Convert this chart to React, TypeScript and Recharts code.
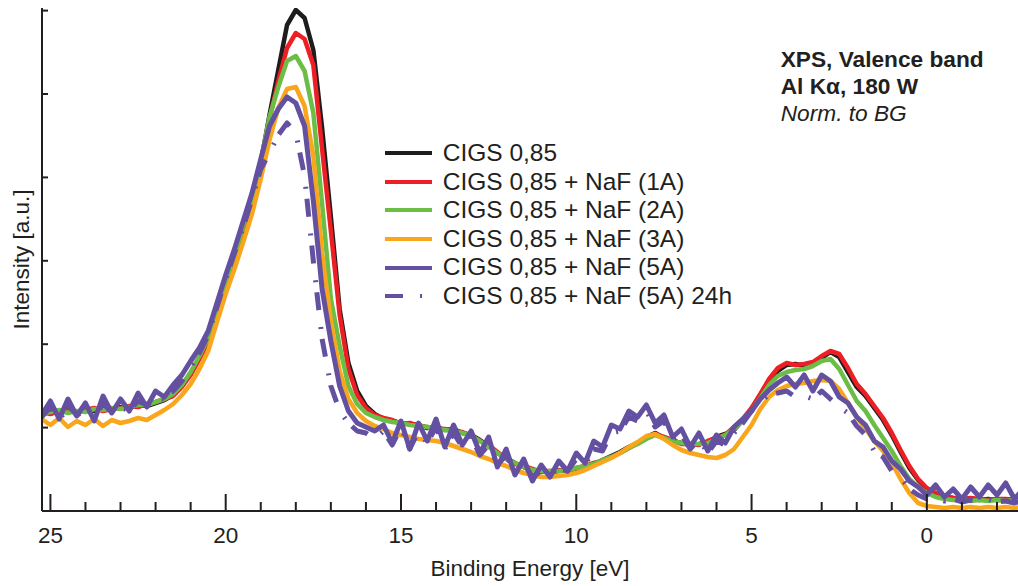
import React from 'react';
import { LineChart, Line, XAxis, YAxis, Legend, Label } from 'recharts';

const FONT = '"Liberation Sans", Arial, Helvetica, sans-serif';
const INK = '#231f20';

// Binding energy grid [eV]
const ENERGY = [
  25.25, 25, 24.75, 24.5, 24.25, 24, 23.75, 23.5, 23.25, 23,
  22.75, 22.5, 22.25, 22, 21.75, 21.5, 21.25, 21, 20.75, 20.5,
  20.25, 20, 19.75, 19.5, 19.25, 19, 18.75, 18.5, 18.25, 18,
  17.75, 17.5, 17.25, 17, 16.75, 16.5, 16.25, 16, 15.75, 15.5,
  15.25, 15, 14.75, 14.5, 14.25, 14, 13.75, 13.5, 13.25, 13,
  12.75, 12.5, 12.25, 12, 11.75, 11.5, 11.25, 11, 10.75, 10.5,
  10.25, 10, 9.75, 9.5, 9.25, 9, 8.75, 8.5, 8.25, 8,
  7.75, 7.5, 7.25, 7, 6.75, 6.5, 6.25, 6, 5.75, 5.5,
  5.25, 5, 4.75, 4.5, 4.25, 4, 3.75, 3.5, 3.25, 3,
  2.75, 2.5, 2.25, 2, 1.75, 1.5, 1.25, 1, 0.75, 0.5,
  0.25, 0, -0.25, -0.5, -0.75, -1, -1.25, -1.5, -1.75, -2,
  -2.25, -2.5, -2.75,
];

// Intensities (a.u., normalized to background)
const CIGS = [
  98, 100, 97, 101, 99, 102, 100, 103, 101, 104,
  103, 106, 105, 108, 111, 116, 125, 137, 153, 171,
  201, 228, 253, 283, 311, 348, 396, 441, 486, 501,
  493, 461, 383, 294, 202, 148, 120, 105, 97, 92,
  90, 88, 87, 86, 83, 84, 81, 82, 78, 76,
  71, 65, 58, 53, 48, 44, 41, 40, 39, 40,
  41, 42, 44, 47, 51, 55, 59, 64, 68, 74,
  78, 73, 70, 68, 66, 67, 69, 74, 77, 81,
  91, 101, 116, 128, 140, 146, 147, 145, 147, 153,
  159, 154, 139, 124, 115, 103, 91, 76, 59, 43,
  31, 22, 17, 14, 13, 12, 12, 11, 12, 11,
  11, 12, 11,
];

const NAF_1A = [
  99, 97, 100, 102, 98, 101, 103, 100, 102, 103,
  105, 104, 107, 109, 112, 115, 124, 136, 152, 170,
  200, 227, 252, 282, 310, 347, 392, 430, 463, 478,
  472, 446, 362, 280, 196, 142, 116, 103, 96, 93,
  91, 87, 88, 85, 84, 82, 82, 80, 79, 75,
  70, 66, 59, 52, 47, 45, 42, 39, 40, 41,
  40, 43, 45, 48, 50, 54, 58, 63, 68, 73,
  77, 74, 71, 67, 67, 66, 70, 73, 76, 84,
  92, 103, 117, 132, 143, 148, 146, 147, 149, 155,
  160, 157, 143, 127, 117, 105, 93, 78, 61, 45,
  32, 23, 18, 15, 13, 12, 13, 12, 11, 12,
  12, 11, 12,
];

const NAF_2A = [
  97, 99, 101, 98, 100, 99, 102, 101, 103, 102,
  104, 106, 106, 109, 112, 117, 126, 139, 155, 173,
  203, 230, 255, 285, 313, 350, 394, 424, 450, 455,
  440, 398, 307, 212, 165, 125, 107, 98, 94, 91,
  89, 88, 86, 85, 84, 82, 81, 80, 78, 75,
  70, 64, 58, 52, 48, 44, 41, 40, 40, 40,
  41, 43, 45, 47, 51, 54, 58, 63, 67, 72,
  76, 73, 70, 68, 67, 67, 68, 72, 76, 82,
  90, 100, 113, 126, 135, 139, 141, 142, 145, 150,
  152, 142, 126, 110, 100, 86, 73, 60, 45, 32,
  24, 18, 14, 12, 11, 11, 10, 11, 10, 11,
  10, 11, 10,
];

const NAF_3A = [
  92, 86, 93, 84, 90, 86, 92, 85, 91, 88,
  90, 93, 91, 96, 101, 107, 116, 127, 142, 160,
  189, 217, 242, 269, 297, 332, 371, 403, 422, 424,
  405, 355, 258, 190, 140, 112, 98, 90, 85, 82,
  78, 76, 74, 72, 71, 70, 68, 65, 62, 59,
  55, 52, 48, 45, 41, 38, 36, 34, 34, 35,
  36, 38, 41, 45, 49, 53, 58, 64, 69, 75,
  77, 72, 66, 61, 58, 56, 54, 53, 56, 62,
  74, 86, 102, 114, 121, 125, 127, 128, 130, 131,
  130, 122, 108, 94, 82, 70, 60, 48, 32, 18,
  8, 5, 4, 3, 4, 3, 4, 3, 4, 3,
  4, 3, 4,
];

const NAF_5A = [
  96, 110, 92, 112, 95, 108, 90, 115, 98, 112,
  100, 118, 104, 120, 114, 126, 136, 150, 163, 180,
  208, 236, 262, 290, 318, 352, 385, 402, 414, 408,
  385, 310, 222, 170, 125, 100, 88, 84, 80, 86,
  68, 90, 62, 88, 70, 92, 64, 86, 66, 80,
  58, 74, 44, 62, 36, 52, 30, 46, 34, 50,
  40, 58, 48, 70, 64, 86, 82, 100, 94, 106,
  88, 96, 74, 82, 64, 78, 60, 76, 68, 84,
  92, 100, 112, 121, 128, 134, 124, 136, 120, 136,
  130, 114, 108, 94, 86, 70, 64, 50, 42, 30,
  24, 16, 26, 14, 22, 12, 24, 14, 26, 16,
  28, 12, 22,
];

const NAF_5A_24H = [
  94, 104, 90, 106, 96, 100, 92, 108, 98, 104,
  100, 110, 106, 114, 112, 120, 130, 144, 158, 176,
  204, 232, 258, 284, 312, 342, 358, 376, 388, 378,
  335, 250, 172, 125, 100, 88, 80, 78, 72, 80,
  66, 84, 62, 80, 68, 84, 62, 78, 64, 74,
  56, 66, 46, 56, 40, 48, 34, 40, 36, 44,
  40, 52, 46, 62, 60, 78, 80, 94, 90, 100,
  84, 90, 72, 76, 62, 72, 58, 70, 66, 78,
  88, 100, 110, 116, 118, 120, 114, 115, 112, 120,
  112, 104, 98, 85, 76, 60, 54, 40, 34, 22,
  16, 12, 14, 10, 12, 9, 11, 10, 12, 9,
  10, 8, 11,
];

const X_TICKS = [25, 24, 23, 22, 21, 20, 19, 18, 17, 16, 15, 14, 13, 12, 11, 10, 9, 8, 7, 6, 5, 4, 3, 2, 1, 0, -1, -2];
const Y_TICKS = [83.4, 166.8, 250.2, 333.6, 417, 500.4];
const X_DOMAIN: [number, number] = [-2.6, 25.24];
const Y_DOMAIN: [number, number] = [0, 503];

type Series = { key: string; name: string; color: string; values: number[]; width: number; dash?: string };

const SERIES: Series[] = [
  { key: 'cigs', name: 'CIGS 0,85', color: '#1f1c1d', values: CIGS, width: 4.5 },
  { key: 'naf1', name: 'CIGS 0,85 + NaF (1A)', color: '#ed1f24', values: NAF_1A, width: 4.5 },
  { key: 'naf2', name: 'CIGS 0,85 + NaF (2A)', color: '#6bbd46', values: NAF_2A, width: 4.5 },
  { key: 'naf3', name: 'CIGS 0,85 + NaF (3A)', color: '#f9a61c', values: NAF_3A, width: 4.5 },
  { key: 'naf5', name: 'CIGS 0,85 + NaF (5A)', color: '#6450a1', values: NAF_5A, width: 5 },
  { key: 'naf5h', name: 'CIGS 0,85 + NaF (5A) 24h', color: '#6450a1', values: NAF_5A_24H, width: 5, dash: '18 17 2 10' },
];

const DRAW_ORDER = ['cigs', 'naf1', 'naf2', 'naf3', 'naf5h', 'naf5'];

const data = ENERGY.map((e, i) => {
  const row: Record<string, number> = { e };
  SERIES.forEach((s) => {
    row[s.key] = s.values[i];
  });
  return row;
});

const BottomTick = (p: any) => {
  const { x, y, payload } = p;
  const v = payload.value;
  const major = v % 5 === 0;
  return (
    <g>
      <line x1={x} x2={x} y1={y} y2={y - (major ? 17 : 9)} stroke={INK} strokeWidth={2} />
      {major && (
        <text x={x} y={y + 32} textAnchor="middle" fontSize={22.5} fontFamily={FONT} fill={INK}>
          {v}
        </text>
      )}
    </g>
  );
};

const TopTick = (p: any) => {
  const { x, y, payload } = p;
  const major = payload.value % 5 === 0;
  return <line x1={x} x2={x} y1={y} y2={y + (major ? 17 : 8)} stroke={INK} strokeWidth={2} />;
};

const LeftTick = (p: any) => {
  const { x, y } = p;
  return <line x1={x} x2={x + 6} y1={y} y2={y} stroke={INK} strokeWidth={2} />;
};

const LegendBox = () => (
  <div style={{ fontFamily: FONT, fontSize: 24.5, color: INK }}>
    {SERIES.map((s) => (
      <div key={s.key} style={{ display: 'flex', alignItems: 'center', height: 28.6, whiteSpace: 'nowrap' }}>
        <svg width={47} height={6} style={{ marginRight: 10.7, flex: 'none' }}>
          <line x1={0} x2={47} y1={3} y2={3} stroke={s.color} strokeWidth={4} strokeDasharray={s.dash} />
        </svg>
        <span style={{ lineHeight: '28.6px' }}>{s.name}</span>
      </div>
    ))}
  </div>
);

export default function App() {
  const axisLine = { stroke: INK, strokeWidth: 2 };
  return (
    <div style={{ position: 'absolute', left: 0, top: 0, width: 1018, height: 586, overflow: 'hidden', background: '#fff' }}>
      <LineChart width={1018} height={586} data={data} margin={{ top: 8, right: 0, bottom: 0, left: 0 }}>
        <XAxis
          dataKey="e"
          type="number"
          domain={X_DOMAIN}
          reversed
          allowDataOverflow
          ticks={X_TICKS}
          interval={0}
          height={75}
          tickSize={0}
          tickMargin={0}
          tickLine={false}
          axisLine={axisLine}
          tick={BottomTick}
        >
          <Label
            value="Binding Energy [eV]"
            position="insideBottom"
            offset={10}
            style={{ fontSize: 22.5, fontFamily: FONT, fill: INK }}
          />
        </XAxis>
        <XAxis
          xAxisId="top"
          orientation="top"
          dataKey="e"
          type="number"
          domain={X_DOMAIN}
          reversed
          allowDataOverflow
          ticks={X_TICKS}
          interval={0}
          height={0}
          tickSize={0}
          tickMargin={0}
          tickLine={false}
          axisLine={axisLine}
          tick={TopTick}
        />
        <YAxis
          type="number"
          domain={Y_DOMAIN}
          allowDataOverflow
          ticks={Y_TICKS}
          interval={0}
          width={42}
          tickSize={0}
          tickMargin={0}
          tickLine={false}
          axisLine={axisLine}
          tick={LeftTick}
        >
          <Label
            value="Intensity [a.u.]"
            angle={-90}
            position="center"
            style={{ fontSize: 22.5, fontFamily: FONT, fill: INK }}
          />
        </YAxis>
        {DRAW_ORDER.map((k) => {
          const s = SERIES.find((q) => q.key === k)!;
          return (
            <Line
              key={s.key}
              dataKey={s.key}
              name={s.name}
              type="linear"
              stroke={s.color}
              strokeWidth={s.width}
              strokeDasharray={s.dash}
              strokeLinejoin="round"
              dot={false}
              activeDot={false}
              isAnimationActive={false}
            />
          );
        })}
        <Legend
          layout="vertical"
          align="center"
          verticalAlign="middle"
          wrapperStyle={{ position: 'absolute', left: 385, top: 139, width: 420, height: 172, margin: 0, padding: 0 }}
          content={() => <LegendBox />}
        />
      </LineChart>
      <div
        style={{
          position: 'absolute',
          left: 780.7,
          top: 45.6,
          fontFamily: FONT,
          fontSize: 22.7,
          lineHeight: '27px',
          color: INK,
          whiteSpace: 'nowrap',
        }}
      >
        <div style={{ fontWeight: 'bold' }}>XPS, Valence band</div>
        <div style={{ fontWeight: 'bold' }}>Al Kα, 180 W</div>
        <div style={{ fontStyle: 'italic' }}>Norm. to BG</div>
      </div>
    </div>
  );
}
